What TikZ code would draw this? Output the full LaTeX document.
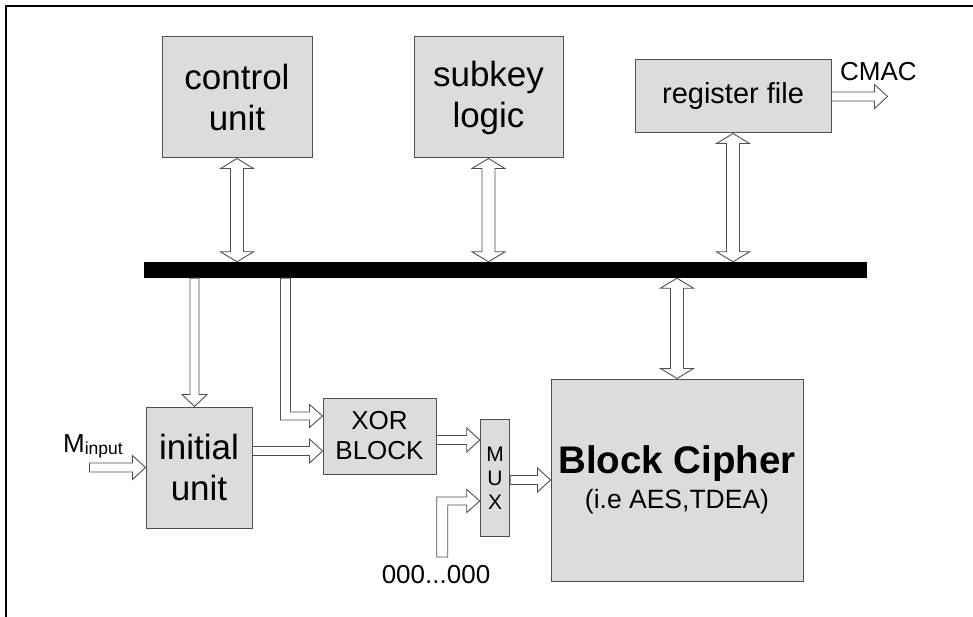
\documentclass[tikz,border=0pt]{standalone}
\usepackage{fontspec}
\setmainfont{Liberation Sans}
\usetikzlibrary{calc}
\definecolor{boxfill}{RGB}{220,220,220}
\definecolor{edgecol}{RGB}{80,80,80}
\tikzset{
  blk/.style={draw=edgecol, fill=boxfill, line width=1pt, inner sep=0pt, align=center},
  barrow/.style={draw=edgecol, fill=white, line width=0.9pt, line join=miter},
  bigtxt/.style={font=\fontsize{35}{41}\selectfont},
  midtxt/.style={font=\fontsize{26}{30}\selectfont},
}
% vertical double arrow: #1 top tip, #2 bottom tip (x of #1)
\newcommand\VDArrow[2]{%
  \draw[barrow] let \p1=(#1), \p2=(#2) in
    (\x1,\y1) -- (\x1+16.5pt,\y1-10pt) -- (\x1+6.5pt,\y1-10pt) -- (\x1+6.5pt,\y2+10pt)
    -- (\x1+16.5pt,\y2+10pt) -- (\x1,\y2) -- (\x1-16.5pt,\y2+10pt) -- (\x1-6.5pt,\y2+10pt)
    -- (\x1-6.5pt,\y1-10pt) -- (\x1-16.5pt,\y1-10pt) -- cycle;}
% vertical single arrow down: #1 start, #2 tip (x of #1)
\newcommand\VSArrow[2]{%
  \draw[barrow] let \p1=(#1), \p2=(#2) in
    (\x1-4.5pt,\y1) -- (\x1-4.5pt,\y2+12pt) -- (\x1-12.5pt,\y2+12pt) -- (\x1,\y2)
    -- (\x1+12.5pt,\y2+12pt) -- (\x1+4.5pt,\y2+12pt) -- (\x1+4.5pt,\y1) -- cycle;}
% horizontal single arrow: #1 start, #2 tip (y of #1)
\newcommand\HSArrow[2]{%
  \draw[barrow] let \p1=(#1), \p2=(#2) in
    (\x1,\y1+4.5pt) -- (\x2-13pt,\y1+4.5pt) -- (\x2-13pt,\y1+12pt) -- (\x2,\y1)
    -- (\x2-13pt,\y1-12pt) -- (\x2-13pt,\y1-4.5pt) -- (\x1,\y1-4.5pt) -- cycle;}
\begin{document}
\begin{tikzpicture}[x=1pt,y=-1pt]
\useasboundingbox (0,0) rectangle (973,617);
% frame
\draw[line width=2.5pt] (6,617) -- (6,6) -- (973,6);

% blocks
\node[blk, bigtxt, minimum width=150pt, minimum height=121pt] (ctrl) at (237,97.5) {control\\unit};
\node[blk, bigtxt, minimum width=149pt, minimum height=121pt] (subkey) at (488.5,97.5) {subkey\\logic};
\node[blk, font=\fontsize{29}{34}\selectfont, minimum width=196pt, minimum height=73pt] (reg) at (733,96.5) {register file};
\node[fill=black, inner sep=0pt, minimum width=723pt, minimum height=16pt] (bus) at (505.5,270) {};
\node[blk, bigtxt, minimum width=106pt, minimum height=121pt] (init) at (199,467.5) {initial\\unit};
\node[blk, midtxt, minimum width=113pt, minimum height=76pt] (xor) at (379.5,436) {XOR\\BLOCK};
\node[blk, font=\fontsize{21}{24}\selectfont, minimum width=29.5pt, minimum height=117.5pt] (mux) at (495,478) {M\\U\\X};
\node[blk, font=\fontsize{26.5}{35}\selectfont, minimum width=252pt, minimum height=202pt] (bc) at (677,480)
  {{\bfseries\fontsize{38.5}{35}\selectfont Block Cipher}\\(i.e AES,TDEA)};

% labels
\node[anchor=base west, inner sep=0pt, font=\fontsize{26}{30}\selectfont] (cmac) at (840,81) {CMAC};
\node[anchor=base west, inner sep=0pt, font=\fontsize{26}{30}\selectfont] (minput) at (63,452)
  {M\raisebox{-2.5pt}{\fontsize{17.5}{20}\selectfont input}};
\node[anchor=base, inner sep=0pt, font=\fontsize{26}{30}\selectfont] (zeros) at (436,583) {000...000};

% coordinates for free ends / bends
\coordinate (cmacend) at ([xshift=56pt]reg.east);
\coordinate (min) at ([xshift=-56pt]init.west);
\coordinate (initin) at ([xshift=-4.5pt]init.north);
\coordinate (xc) at ([xshift=-37pt,yshift=20pt]xor.west);
\coordinate (zt) at ([yshift=-23pt]mux.west);

% bus connections
\VDArrow{ctrl.south}{ctrl.south |- bus.north}
\VDArrow{subkey.south}{subkey.south |- bus.north}
\VDArrow{reg.south}{reg.south |- bus.north}
\VDArrow{bc.north |- bus.south}{bc.north}
\VSArrow{initin |- bus.south}{initin}

% bus -> XOR (elbow)
\draw[barrow] let \p1=(xc), \p2=(xor.west), \p3=(bus.south) in
  (\x1-5pt,\y3) -- (\x1-5pt,\y1-4pt) -- (\x2-13pt,\y1-4pt) -- (\x2-13pt,\y1-11.5pt)
  -- (\x2,\y1) -- (\x2-13pt,\y1+11.5pt) -- (\x2-13pt,\y1+4pt) -- (\x1+5pt,\y1+4pt)
  -- (\x1+5pt,\y3) -- cycle;

% 000...000 -> MUX (elbow)
\draw[barrow] let \p1=(zt) in
  (\x1-43pt,\y1-56pt) -- (\x1-43pt,\y1+4pt) -- (\x1-13pt,\y1+4pt) -- (\x1-13pt,\y1+11.5pt)
  -- (\x1,\y1) -- (\x1-13pt,\y1-11.5pt) -- (\x1-13pt,\y1-4pt) -- (\x1-32pt,\y1-4pt)
  -- (\x1-32pt,\y1-56pt) -- cycle;

% horizontal data arrows
\HSArrow{min}{init.west}
\HSArrow{[yshift=16.5pt]init.east}{xor.west}
\HSArrow{[yshift=-4pt]xor.east}{mux.west}
\HSArrow{mux.east |- bc.west}{bc.west}
\HSArrow{reg.east}{cmacend}
\end{tikzpicture}
\end{document}
